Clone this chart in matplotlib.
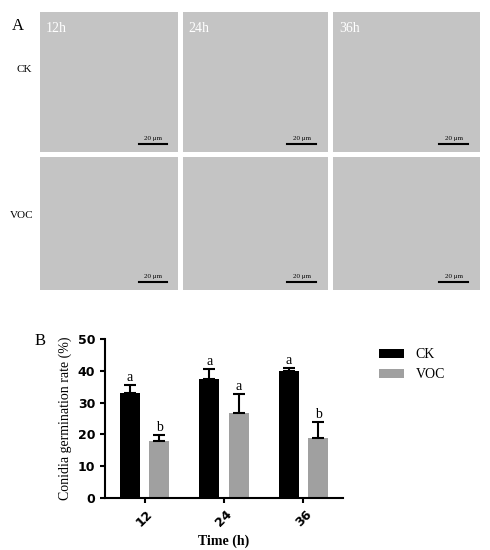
import matplotlib.pyplot as plt
import numpy as np

times = ["12", "24", "36"]
ck_mean = [33.0, 37.5, 40.0]
ck_err = [2.5, 3.0, 1.0]
voc_mean = [17.8, 26.8, 19.0]
voc_err = [2.0, 6.0, 5.0]
ck_letters = ["a", "a", "a"]
voc_letters = ["b", "a", "b"]
panel_times = ["12h", "24h", "36h"]
row_names = ["CK", "VOC"]

W, H = 490, 550
fig = plt.figure(figsize=(4.9, 5.5), dpi=100)
serif = "Liberation Serif"

def ax_px(x0, y0, x1, y1):
    return fig.add_axes([x0 / W, 1 - y1 / H, (x1 - x0) / W, (y1 - y0) / H])

# Panel A: placeholder micrograph tiles
cols = [(40, 178), (183, 328), (333, 480)]
rows = [(12, 152), (157, 290)]
for r, (y0, y1) in enumerate(rows):
    for c, (x0, x1) in enumerate(cols):
        a = ax_px(x0, y0, x1, y1)
        a.set_facecolor("#c4c4c4")
        a.set_xticks([]); a.set_yticks([])
        for s in a.spines.values():
            s.set_visible(False)
        a.set_xlim(0, 1); a.set_ylim(0, 1)
        if r == 0:
            a.text(0.04, 0.93, panel_times[c], color="white", fontsize=10,
                   family=serif, va="top")
        a.plot([0.72, 0.92], [0.06, 0.06], color="black", lw=1.5)
        a.text(0.82, 0.08, "20 μm", fontsize=5, family=serif, ha="center", va="bottom")
fig.text(12 / W, 1 - 30 / H, "A", fontsize=12, family=serif)
fig.text(16 / W, 1 - 72 / H, row_names[0], fontsize=8, family=serif)
fig.text(10 / W, 1 - 218 / H, row_names[1], fontsize=8, family=serif)

# Panel B: bar chart
ax = ax_px(105, 339, 343, 498)
x = np.arange(len(times))
w = 0.25
ax.bar(x - 0.185, ck_mean, w, yerr=[np.zeros(3), ck_err], color="black",
       error_kw=dict(ecolor="black", capsize=4, lw=1.5, capthick=1.5), label="CK")
ax.bar(x + 0.185, voc_mean, w, yerr=[np.zeros(3), voc_err], color="#a0a0a0",
       error_kw=dict(ecolor="black", capsize=4, lw=1.5, capthick=1.5), label="VOC")
for i in range(3):
    ax.text(x[i] - 0.185, ck_mean[i] + ck_err[i] + 1.2, ck_letters[i],
            ha="center", fontsize=10, family=serif)
    ax.text(x[i] + 0.185, voc_mean[i] + voc_err[i] + 1.2, voc_letters[i],
            ha="center", fontsize=10, family=serif)
ax.set_ylim(0, 50)
ax.set_xlim(-0.5, 2.5)
ax.set_yticks(range(0, 51, 10))
ax.set_xticks(x)
ax.set_xticklabels(times, rotation=45, fontweight="bold", fontsize=9)
for t in ax.get_yticklabels():
    t.set_fontweight("bold"); t.set_fontsize(9)
ax.spines["top"].set_visible(False)
ax.spines["right"].set_visible(False)
ax.spines["left"].set_linewidth(1.5)
ax.spines["bottom"].set_linewidth(1.5)
ax.tick_params(width=1.5)
ax.set_ylabel("Conidia germination rate (%)", family=serif, fontsize=10)
ax.set_xlabel("Time (h)", family=serif, fontweight="bold", fontsize=10)
ax.legend(loc="upper left", bbox_to_anchor=(1.1, 1.02), frameon=False,
          prop={"family": serif, "size": 10}, handlelength=1.8)
fig.text(35 / W, 1 - 345 / H, "B", fontsize=12, family=serif)

fig.savefig("out.png", dpi=100)
